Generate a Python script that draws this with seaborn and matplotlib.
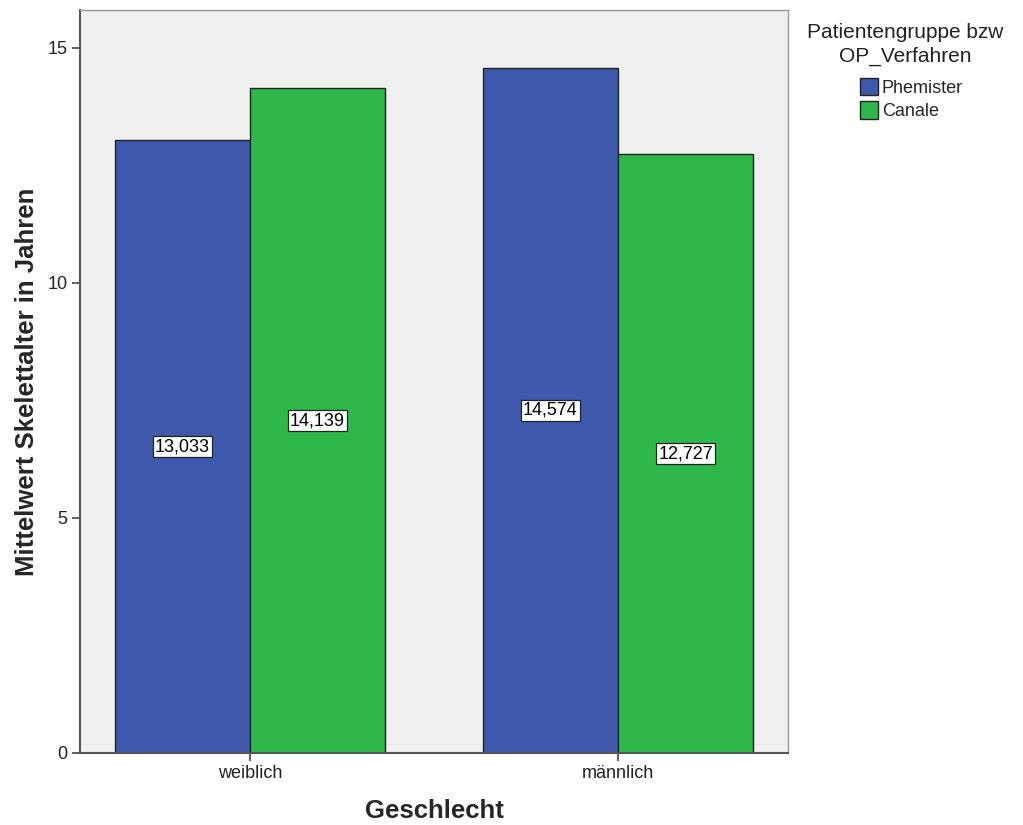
import matplotlib
matplotlib.use("Agg")
import matplotlib.pyplot as plt
import seaborn as sns
import pandas as pd
from matplotlib.patches import Patch

# Mean skeletal age by sex and surgical procedure
geschlecht = ["weiblich", "weiblich", "männlich", "männlich"]
verfahren = ["Phemister", "Canale", "Phemister", "Canale"]
mittelwert = [13.033, 14.139, 14.574, 12.727]

gruppen = ["Phemister", "Canale"]
farben = {"Phemister": "#3E58AC", "Canale": "#2EB84A"}

df = pd.DataFrame({"Geschlecht": geschlecht, "Verfahren": verfahren, "Mittelwert": mittelwert})

sns.set_style("white")
plt.rcParams["font.family"] = ["Liberation Sans", "DejaVu Sans"]

fig = plt.figure(figsize=(10.23, 8.25), dpi=100)
ax = fig.add_axes([0.0782, 0.0873, 0.6921, 0.9006])
ax.set_facecolor("#F0F0F0")

sns.barplot(data=df, x="Geschlecht", y="Mittelwert", hue="Verfahren",
            hue_order=gruppen, palette=farben, width=0.734, gap=0,
            edgecolor="#222222", linewidth=1.0, saturation=1, ax=ax,
            errorbar=None, legend=False)

ax.set_xlim(-0.462, 1.462)
ax.set_ylim(0, 15.8)
ax.set_yticks([0, 5, 10, 15])
ax.set_yticklabels(["0", "5", "10", "15"])

# value labels at half bar height
for container in ax.containers:
    for bar in container:
        h = bar.get_height()
        ax.text(bar.get_x() + bar.get_width() / 2, h / 2,
                f"{h:.3f}".replace(".", ","), ha="center", va="center",
                fontsize=13, color="black",
                bbox=dict(boxstyle="square,pad=0.1", facecolor="white",
                          edgecolor="#222222", linewidth=0.9))

for side in ["left", "bottom", "top", "right"]:
    ax.spines[side].set_visible(True)
    ax.spines[side].set_color("#555555")
    ax.spines[side].set_linewidth(1.0)
ax.spines["left"].set_linewidth(1.5)
ax.spines["bottom"].set_linewidth(1.5)
ax.spines["top"].set_color("#999999")
ax.spines["right"].set_color("#999999")

ax.tick_params(axis="both", which="major", direction="out", length=6, width=1.2,
               color="#444444", labelsize=13, labelcolor="#222222",
               left=True, bottom=True, pad=3)

ax.set_xlabel("Geschlecht", fontsize=18.5, fontweight="bold", labelpad=12)
ax.set_ylabel("Mittelwert Skelettalter in Jahren", fontsize=18.5, fontweight="bold", labelpad=6)

# legend: centred two-line title, entries below
fig.text(905 / 1023, 1 - 23 / 825, "Patientengruppe bzw\nOP_Verfahren",
         ha="center", va="top", fontsize=15, color="#222222",
         multialignment="center", linespacing=1.3)
handles = [Patch(facecolor=farben[g], edgecolor="#222222", linewidth=1.0, label=g) for g in gruppen]
leg = fig.legend(handles=handles, loc="upper left",
                 bbox_to_anchor=(860 / 1023, 1 - 78 / 825), frameon=False,
                 fontsize=13, handlelength=1.0, handleheight=1.1,
                 handletextpad=0.2, labelspacing=0.25, borderpad=0, borderaxespad=0)

fig.savefig("out.png", dpi=100, facecolor="white")
